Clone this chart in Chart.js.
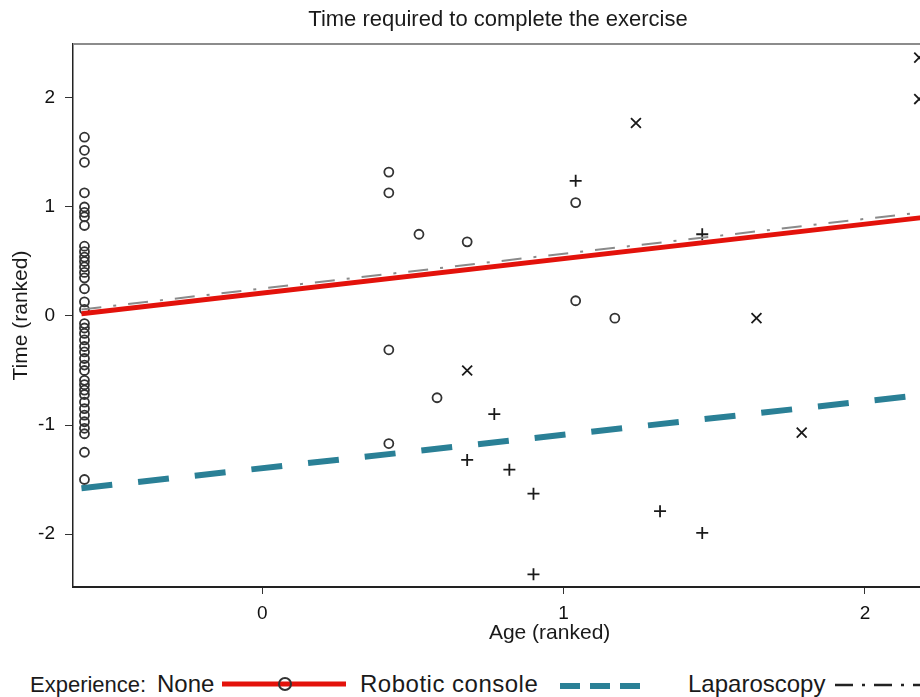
<!DOCTYPE html>
<html>
<head>
<meta charset="utf-8">
<script src="https://cdn.jsdelivr.net/npm/chart.js@4.4.1/dist/chart.umd.min.js"></script>
<style>
  html, body { margin: 0; padding: 0; background: #fff; }
  #page { position: relative; width: 920px; height: 697px; overflow: hidden; font-family: "Liberation Sans", Arial, sans-serif; color: #222; }
  #plot { position: absolute; left: 0; top: 0; width: 1035px; height: 660px; }
  #title { position: absolute; left: 0; top: 6px; width: 996px; text-align: center; font-size: 22px; color: #1a1a1a; }
  .lg { position: absolute; top: 670px; font-size: 24px; white-space: nowrap; color: #1a1a1a; }
  .lg.small { font-size: 22px; top: 672px; }
  svg.sample { position: absolute; top: 672px; height: 24px; overflow: visible; }
</style>
</head>
<body>
<div id="page">
  <div id="plot"><canvas id="chart"></canvas></div>
  <div id="title">Time required to complete the exercise</div>

  <span class="lg small" style="left:30px">Experience:</span>
  <span class="lg" style="left:157px">None</span>
  <svg class="sample" style="left:222px" width="124" viewBox="0 0 124 24">
    <line x1="0" y1="12" x2="124" y2="12" stroke="#e3120b" stroke-width="5"/>
    <circle cx="63" cy="12" r="6" fill="none" stroke="#333" stroke-width="2"/>
  </svg>
  <span class="lg" style="left:360px; letter-spacing:0.5px">Robotic console</span>
  <svg class="sample" style="left:560px" width="82" viewBox="0 0 82 24">
    <line x1="0" y1="14" x2="82" y2="14" stroke="#2a8096" stroke-width="6" stroke-dasharray="20,10"/>
  </svg>
  <span class="lg" style="left:688px">Laparoscopy</span>
  <svg class="sample" style="left:835px" width="90" viewBox="0 0 90 24">
    <line x1="0" y1="13" x2="90" y2="13" stroke="#222" stroke-width="2.5" stroke-dasharray="18,9,3,9"/>
  </svg>
</div>

<script>
// Axis ticks
const xTicks = [0, 1, 2];
const yTicks = [-2, -1, 0, 1, 2];

// Experience: None (circles)
const noneAge = [
  -0.59, -0.59, -0.59, -0.59, -0.59, -0.59, -0.59, -0.59, -0.59, -0.59,
  -0.59, -0.59, -0.59, -0.59, -0.59, -0.59, -0.59, -0.59, -0.59, -0.59,
  -0.59, -0.59, -0.59, -0.59, -0.59, -0.59, -0.59, -0.59, -0.59, -0.59,
  -0.59, -0.59, -0.59, -0.59, -0.59, -0.59, -0.59, -0.59, -0.59,
  0.42, 0.42, 0.52, 0.68, 1.04, 1.04, 1.17, 0.42, 0.58, 0.42
];
const noneTime = [
  1.64, 1.52, 1.41, 1.13, 1.00, 0.95, 0.91, 0.83, 0.64, 0.59,
  0.54, 0.50, 0.45, 0.40, 0.35, 0.25, 0.13, 0.06, -0.07, -0.11,
  -0.16, -0.22, -0.28, -0.33, -0.39, -0.45, -0.50, -0.59, -0.63, -0.68,
  -0.72, -0.79, -0.85, -0.91, -0.97, -1.03, -1.08, -1.25, -1.50,
  1.32, 1.13, 0.75, 0.68, 1.04, 0.14, -0.02, -0.31, -0.75, -1.17
];

// Experience: Robotic console (plus)
const roboticAge = [1.04, 1.46, 0.77, 0.68, 0.82, 0.90, 0.90, 1.32, 1.46];
const roboticTime = [1.24, 0.75, -0.90, -1.32, -1.41, -1.63, -2.37, -1.79, -1.99];

// Experience: Laparoscopy (x)
const laparoAge = [1.24, 2.18, 2.18, 1.64, 1.79, 0.68];
const laparoTime = [1.77, 2.37, 1.99, -0.02, -1.07, -0.50];

// Fitted lines (end points)
const fitAge = [-0.60, 2.53];
const noneFit = [0.02, 1.01];
const roboticFit = [-1.58, -0.62];
const laparoFit = [0.06, 1.06];

function pts(xs, ys) {
  return xs.map((x, i) => ({ x: x, y: ys[i] }));
}

// top frame line of the plot box
const frameTop = {
  id: 'frameTop',
  afterDraw(chart) {
    const ctx = chart.ctx;
    const a = chart.chartArea;
    ctx.save();
    ctx.strokeStyle = '#8c8c8c';
    ctx.lineWidth = 2;
    ctx.beginPath();
    ctx.moveTo(a.left, a.top);
    ctx.lineTo(a.right, a.top);
    ctx.stroke();
    ctx.restore();
  }
};

const tickFont = { family: '"Liberation Sans", Arial, sans-serif', size: 19 };
const titleFont = { family: '"Liberation Sans", Arial, sans-serif', size: 21 };

new Chart(document.getElementById('chart'), {
  type: 'scatter',
  data: {
    datasets: [
      {
        label: 'None fit', type: 'line', data: pts(fitAge, noneFit),
        borderColor: '#e3120b', borderWidth: 5, pointRadius: 0, order: 1
      },
      {
        label: 'Laparoscopy fit', type: 'line', data: pts(fitAge, laparoFit),
        borderColor: '#8a8a8a', borderWidth: 2, borderDash: [20, 12, 3, 12], pointRadius: 0, order: 0
      },
      {
        label: 'Robotic console fit', type: 'line', data: pts(fitAge, roboticFit),
        borderColor: '#2a8096', borderWidth: 6, borderDash: [31, 26], pointRadius: 0, order: 1
      },
      {
        label: 'None', data: pts(noneAge, noneTime),
        pointStyle: 'circle', pointRadius: 4.5, borderWidth: 1.8,
        borderColor: '#333', backgroundColor: 'rgba(255,255,255,0)', order: 3
      },
      {
        label: 'Robotic console', data: pts(roboticAge, roboticTime),
        pointStyle: 'cross', pointRadius: 6, borderWidth: 1.8,
        borderColor: '#1a1a1a', order: 3
      },
      {
        label: 'Laparoscopy', data: pts(laparoAge, laparoTime),
        pointStyle: 'crossRot', pointRadius: 7, borderWidth: 1.8,
        borderColor: '#1a1a1a', order: 3
      }
    ]
  },
  options: {
    responsive: true,
    maintainAspectRatio: false,
    animation: false,
    layout: { padding: { top: 44, right: 2, left: 0, bottom: 0 } },
    plugins: {
      legend: { display: false },
      tooltip: { enabled: false }
    },
    scales: {
      x: {
        type: 'linear',
        min: -0.628,
        max: 2.535,
        afterBuildTicks: (s) => { s.ticks = xTicks.map(v => ({ value: v })); },
        afterFit: (s) => { s.height = 73; },
        grid: { drawOnChartArea: false, drawTicks: true, tickLength: 7, color: '#333' },
        border: { display: true, color: '#222', width: 2 },
        ticks: { font: tickFont, color: '#111', padding: 8, maxRotation: 0 },
        title: { display: true, text: 'Age (ranked)', font: titleFont, color: '#1a1a1a', padding: { top: 0, bottom: 14 } }
      },
      y: {
        type: 'linear',
        min: -2.486,
        max: 2.495,
        afterBuildTicks: (s) => { s.ticks = yTicks.map(v => ({ value: v })); },
        afterFit: (s) => { s.width = 73; },
        grid: { drawOnChartArea: false, drawTicks: true, tickLength: 8, color: '#333' },
        border: { display: true, color: '#222', width: 1.5 },
        ticks: { font: tickFont, color: '#111', padding: 10 },
        title: { display: true, text: 'Time (ranked)', font: titleFont, color: '#1a1a1a', padding: { top: 9, bottom: 0 } }
      }
    }
  },
  plugins: [frameTop]
});
</script>
</body>
</html>
